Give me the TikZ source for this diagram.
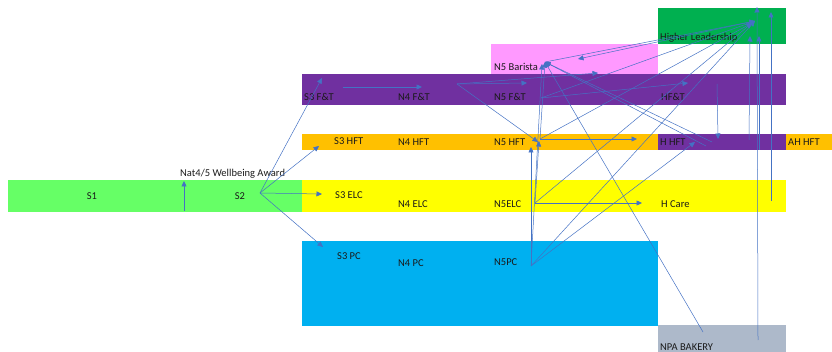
\documentclass[tikz,border=0pt]{standalone}
\usepackage{fontspec}
\setmainfont{Carlito}
\usetikzlibrary{arrows.meta}
\definecolor{sgreen}{HTML}{66FF66}
\definecolor{syellow}{HTML}{FFFF00}
\definecolor{sblue}{HTML}{00B0F0}
\definecolor{sgray}{HTML}{ADB9CA}
\definecolor{sorange}{HTML}{FFC000}
\definecolor{spurple}{HTML}{7030A0}
\definecolor{spink}{HTML}{FF99FF}
\definecolor{sdgreen}{HTML}{00B050}
\definecolor{lineblue}{HTML}{4472C4}
\definecolor{txt}{HTML}{1A1A1A}
\begin{document}
\begin{tikzpicture}[x=1pt,y=-1pt,
  band/.style={draw=none,inner sep=0,outer sep=0},
  lbl/.style={anchor=west,inner sep=0,font=\fontsize{10.5}{12}\selectfont,text=txt},
  conn/.style={draw=lineblue,line width=0.5pt},
  arr/.style={conn,-{Triangle[length=5.5pt,width=5pt]}}]
\useasboundingbox (0,0) rectangle (832,352);
% bands
\node[band,fill=sgreen,minimum width=294pt,minimum height=32pt] (s1band) at (155,196) {};
\node[band,fill=syellow,minimum width=484pt,minimum height=32pt] (elcband) at (544,196) {};
\node[band,fill=sblue,minimum width=356pt,minimum height=85pt] (pcband) at (480,283.5) {};
\node[band,fill=sgray,minimum width=128pt,minimum height=27pt] (npaband) at (722,338.5) {};
\node[band,fill=sorange,minimum width=356pt,minimum height=16pt] (hftband) at (480,142) {};
\node[band,fill=spurple,minimum width=128pt,minimum height=16pt] (hhftband) at (722,142) {};
\node[band,fill=sorange,minimum width=46pt,minimum height=16pt] (ahhftband) at (809,142) {};
\node[band,fill=spurple,minimum width=484pt,minimum height=31pt] (ftband) at (544,89.5) {};
\node[band,fill=spink,minimum width=167pt,minimum height=30pt] (baristaband) at (574.5,59) {};
\node[band,fill=sdgreen,minimum width=128pt,minimum height=36pt] (hlband) at (722,26) {};
% labels
\node[anchor=center,inner sep=0,font=\fontsize{10.5}{12}\selectfont,text=txt] (s1) at (92,196) {S1};
\node[anchor=center,inner sep=0,font=\fontsize{10.5}{12}\selectfont,text=txt] (s2) at (240,196) {S2};
\node[lbl] (wb) at (180,174) {Nat4/5 Wellbeing Award};
\node[lbl] (s3ft) at (304,97) {S3 F\&T};
\node[lbl] (n4ft) at (398,97) {N4 F\&T};
\node[lbl] (n5ft) at (494,97) {N5 F\&T};
\node[lbl] (hft) at (661,97) {HF\&T};
\node[lbl] (n5bar) at (494,67) {N5 Barista};
\node[lbl] (hl) at (660,38) {Higher Leadership};
\node[lbl] (s3hft) at (334,141) {S3 HFT};
\node[lbl] (n4hft) at (398,142) {N4 HFT};
\node[lbl] (n5hft) at (494,142) {N5 HFT};
\node[lbl] (hhft) at (660,142) {H HFT};
\node[lbl] (ahhft) at (788,142) {AH HFT};
\node[lbl] (s3elc) at (335,195) {S3 ELC};
\node[lbl] (n4elc) at (398,204) {N4 ELC};
\node[lbl] (n5elc) at (494,204) {N5ELC};
\node[lbl] (hcare) at (661,204) {H Care};
\node[lbl] (s3pc) at (337,256) {S3 PC};
\node[lbl] (n4pc) at (398,263) {N4 PC};
\node[lbl] (n5pc) at (494,262) {N5PC};
\node[lbl] (npa) at (660,347) {NPA BAKERY};
% connector points
\coordinate (cS2) at (260,193);
\coordinate (cS3ft) at (322,78);
\coordinate (cS3hft) at (319,146);
\coordinate (cS3elc) at (322,194);
\coordinate (cS3pc) at (323,247);
\coordinate (cWbB) at (184,211);
\coordinate (cWbT) at (184,181);
\coordinate (cS3ftR) at (343,87);
\coordinate (cN4ftL) at (422,87);
\coordinate (cN4ftR) at (457,84);
\coordinate (cN5ftA) at (527,83);
\coordinate (cN5ft) at (541,98);
\coordinate (cHftA) at (688,83);
\coordinate (cBarA) at (598,73);
\coordinate (cBarB) at (578,59);
\coordinate (cBar) at (545,62);
\coordinate (cBar2) at (542,64);
\coordinate (cN5hftA) at (531,147);
\coordinate (cN5hftB) at (538,142);
\coordinate (cN5hftC) at (539,141);
\coordinate (cN5hft) at (540,139);
\coordinate (cN5pc) at (531,266);
\coordinate (cN5elc) at (535,203);
\coordinate (cHcareA) at (642,203);
\coordinate (cHhftA) at (695,142);
\coordinate (cHhftB) at (637,139);
\coordinate (cHhftC) at (718,139);
\coordinate (cHhftD) at (712,142);
\coordinate (cHhftE) at (706,146);
\coordinate (cHft) at (717,84);
\coordinate (cHL) at (755,21);
\coordinate (cHL2) at (752,23);
\coordinate (cNpa) at (703,332);
\coordinate (cNpaV) at (758,340);
\coordinate (cNpaT) at (757,7);
\coordinate (cHcareV) at (771,201);
\coordinate (cHcareT) at (771,12);
\coordinate (cHhftV) at (749,140);
\coordinate (cHhftT) at (750,36);
\coordinate (cHhftV2) at (759,150);
\coordinate (cHhftT2) at (759,36);
% connectors
\draw[arr] (cS2) -- (cS3ft);
\draw[arr] (cS2) -- (cS3hft);
\draw[arr] (cS2) -- (cS3elc);
\draw[arr] (cS2) -- (cS3pc);
\draw[arr] (cWbB) -- (cWbT);
\draw[arr] (cS3ftR) -- (cN4ftL);
\draw[arr] (cN4ftR) -- (cN5ftA);
\draw[arr] (cN4ftR) -- (cBarA);
\draw[arr] (cN4ftR) -- (cN5hftB);
\draw[arr] (cN5ft) -- (cHftA);
\draw[arr] (cN5ft) -- (cHL);
\draw[arr] (cN5pc) -- (cN5hftA);
\draw[arr] (cN5pc) -- (cBar2);
\draw[arr] (cN5pc) -- (cHhftA);
\draw[arr] (cN5pc) -- (cHL);
\draw[arr] (cN5elc) -- (cHcareA);
\draw[arr] (cN5elc) -- (cN5hftC);
\draw[arr] (cN5elc) -- (cHL2);
\draw[arr] (cN5hft) -- (cHhftB);
\draw[arr] (cN5hft) -- (cBar);
\draw[arr] (cN5hft) -- (cHL2);
\draw[arr] (cBar) -- (cHL);
\draw[arr] (cHL) -- (cBarB);
\draw[arr] (cNpa) -- (cBar);
\draw[arr] (cHhftD) -- (cBar);
\draw[arr] (cHhftE) -- (cBar);
\draw[arr] (cHft) -- (cHhftC);
\draw[arr] (cHhftV) -- (cHhftT);
\draw[arr] (cHhftV2) -- (cHhftT2);
\draw[arr] (cNpaV) -- (cNpaT);
\draw[arr] (cHcareV) -- (cHcareT);
\end{tikzpicture}
\end{document}
